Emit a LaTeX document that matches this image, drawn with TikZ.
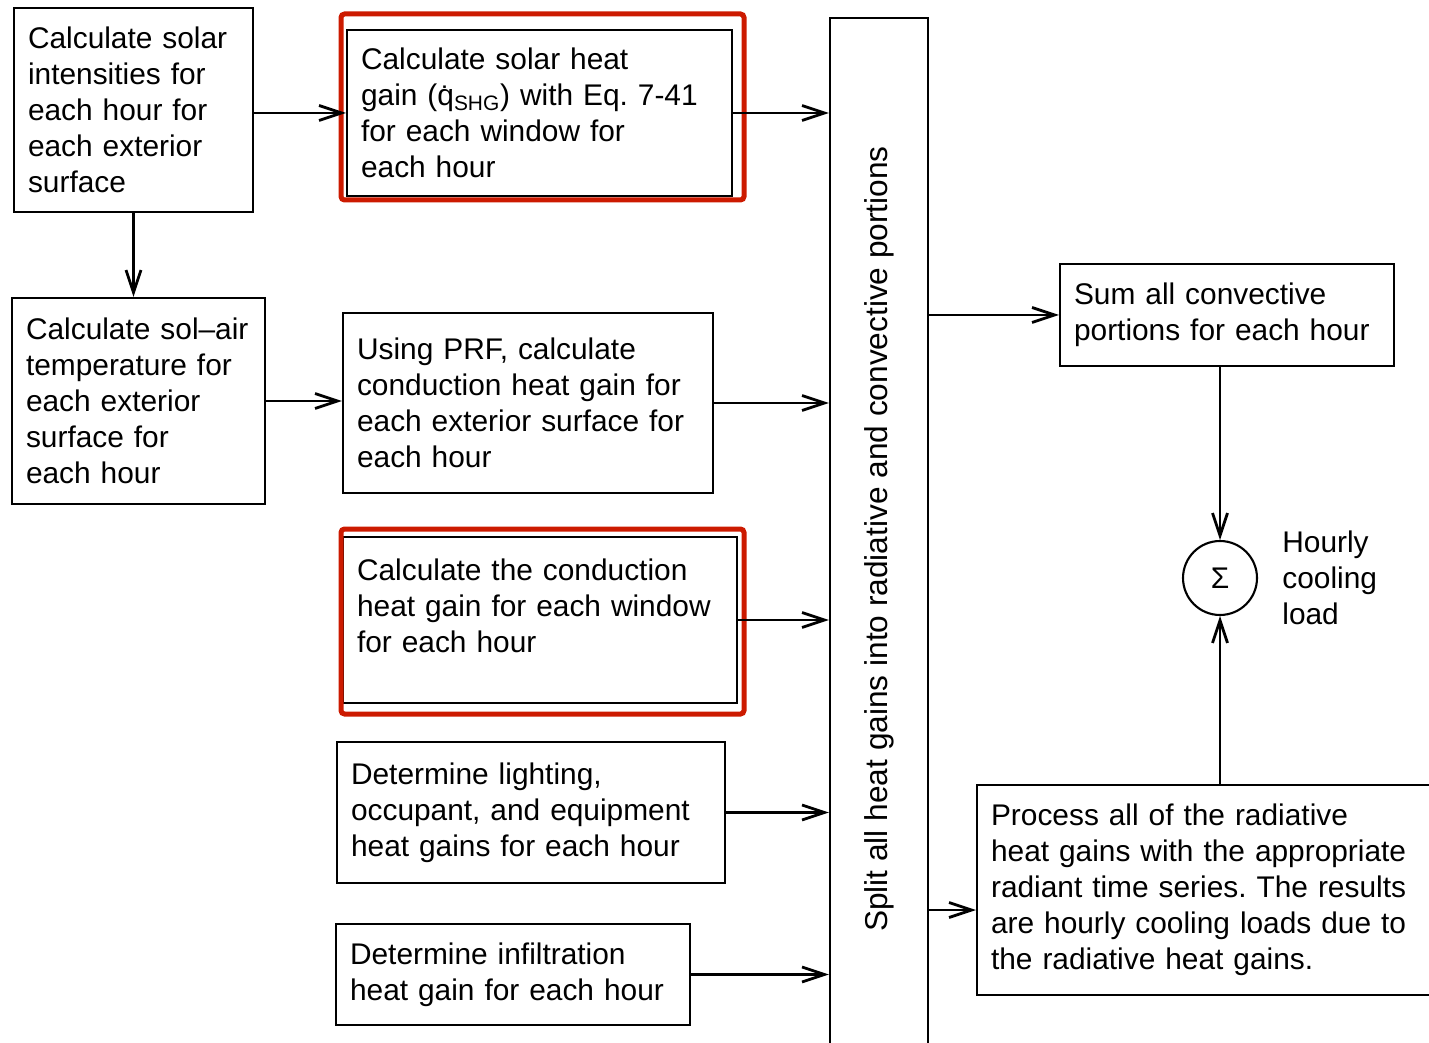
\documentclass[tikz,border=0pt]{standalone}
\usepackage{fontspec}
\setmainfont{Liberation Sans}
\setsansfont{Liberation Sans}
\usetikzlibrary{arrows.meta,calc}
\definecolor{markred}{RGB}{204,26,0}
\frenchspacing
\tikzset{every picture/.style={/utils/exec={\sffamily\fontsize{17}{20.5}\selectfont}}}
\tikzset{
  stepbox/.style={draw, line width=1.2pt, align=left, inner xsep=0.28cm, inner ysep=0pt},
  flow/.style={-{Straight Barb[length=0.45cm,width=0.3cm]}, line width=1.6pt},
  hilite/.style={draw=markred, line width=0.1cm, rounded corners=2pt}
}

\begin{document}
\begin{tikzpicture}[x=0.02cm, y=-0.02cm]
  \useasboundingbox (0,0) rectangle (1429,1043);

  % left column
  \node[stepbox, text width=4.22cm, minimum height=4.08cm] (solar) at (133.5,110)
    {Calculate solar\\intensities for\\each hour for\\each exterior\\surface};
  \node[stepbox, text width=4.50cm, minimum height=4.12cm] (solair) at (138.5,401)
    {Calculate sol--air\\temperature for\\each exterior\\surface for\\each hour};

  % middle column
  \node[stepbox, text width=7.14cm, minimum height=3.32cm] (shg) at (539.5,113)
    {Calculate solar heat\\gain (\.{q}\textsubscript{SHG}) with Eq. 7-41\\for each window for\\each hour};
  \node[stepbox, text width=6.84cm, minimum height=3.6cm] (prf) at (528,403)
    {Using PRF, calculate\\conduction heat gain for\\each exterior surface for\\each hour};
  \node[stepbox, text width=7.32cm, minimum height=3.32cm] (window) at (540,620)
    {Calculate the conduction\\heat gain for each window\\for each hour\\[-4pt]\mbox{}};
  \node[stepbox, text width=7.20cm, minimum height=2.82cm] (internal) at (531,812.5)
    {Determine lighting,\\occupant, and equipment\\heat gains for each hour};
  \node[stepbox, text width=6.52cm, minimum height=2.02cm] (infil) at (513,974.5)
    {Determine infiltration\\heat gain for each hour};

  % highlights
  \draw[hilite] (341,14) rectangle (744,200);
  \draw[hilite] (341,529) rectangle (744,714);

  % split bar
  \node[draw, line width=1.2pt, minimum width=1.96cm, minimum height=20.84cm, inner sep=0pt] (split) at (879,539)
    {\rotatebox{90}{\fontsize{18}{20.5}\selectfont Split all heat gains into radiative and convective portions}};

  % right column
  \node[stepbox, text width=6.12cm, minimum height=2.04cm] (conv) at (1227,315)
    {Sum all convective\\portions for each hour};
  \node[stepbox, text width=8.64cm, minimum height=4.2cm] (rad) at (1207,890)
    {Process all of the radiative\\heat gains with the appropriate\\radiant time series. The results\\are hourly cooling loads due to\\the radiative heat gains.};
  \node[draw, circle, line width=1.2pt, minimum size=1.48cm, inner sep=0pt] (sum) at (1220,578) {Σ};
  \node[anchor=west, align=left, inner sep=0pt] (load) at (1282,578) {Hourly\\cooling\\load};

  % connectors
  \draw[flow] (solar.east |- shg.west) -- (shg.west);
  \draw[flow] (solar.south) -- (solar.south |- solair.north);
  \draw[flow] (solair.east) -- (solair.east -| prf.west);
  \foreach \n in {shg,prf,window,internal,infil}
    \draw[flow] (\n.east) -- (\n.east -| split.west);
  \draw[flow] (split.east |- conv.west) -- (conv.west);
  \draw[flow] (split.east |- {$(rad.west)+(0,20)$}) -- ($(rad.west)+(0,20)$);
  \draw[flow] (conv.south -| sum) -- (sum.north);
  \draw[flow] (rad.north -| sum) -- (sum.south);
\end{tikzpicture}
\end{document}
